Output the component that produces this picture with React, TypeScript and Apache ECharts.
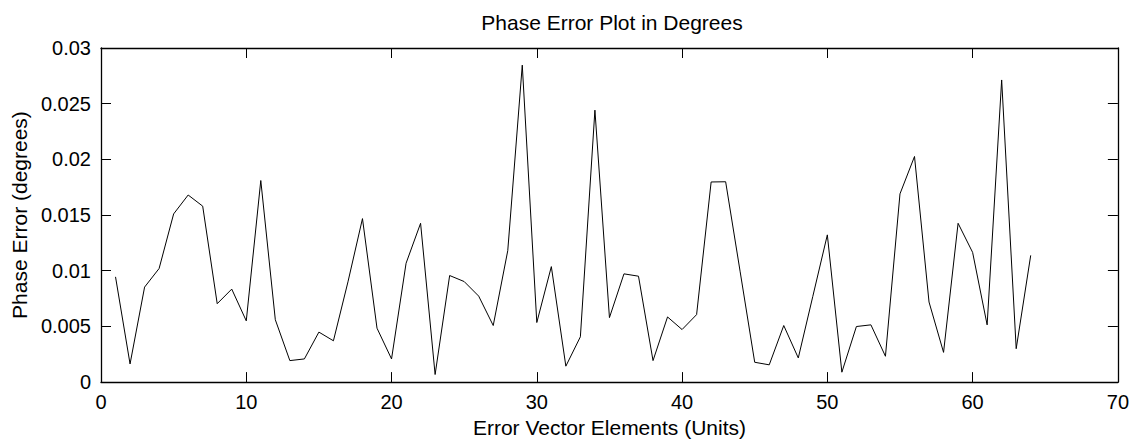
import React, { useEffect, useRef } from "react";
import * as echarts from "echarts";

const titleText = "Phase Error Plot in Degrees";
const xAxisName = "Error Vector Elements (Units)";
const yAxisName = "Phase Error (degrees)";

const elementIndex: number[] = Array.from({ length: 64 }, (_, i) => i + 1);
const phaseError: number[] = [
  0.00945, 0.00163, 0.00853, 0.0102, 0.0151, 0.0168, 0.0158, 0.00704, 0.00835, 0.0055,
  0.0181, 0.0056, 0.00193, 0.00208, 0.00449, 0.00371, 0.009, 0.01468, 0.00484, 0.00208,
  0.01067, 0.01426, 0.00068, 0.00957, 0.00903, 0.00772, 0.00508, 0.0118, 0.02846, 0.00535,
  0.01037, 0.00143, 0.00407, 0.02442, 0.00579, 0.00972, 0.00951, 0.00193, 0.00585, 0.00472,
  0.00606, 0.01797, 0.01799, 0.0099, 0.00178, 0.00155, 0.00508, 0.00217, 0.0077, 0.01322,
  0.00089, 0.00499, 0.00514, 0.00232, 0.0169, 0.02026, 0.00719, 0.00267, 0.01426, 0.01165,
  0.00514, 0.02713, 0.003, 0.01138,
];

const FONT = "Liberation Sans, Arial, Helvetica, sans-serif";

export default function App() {
  const ref = useRef<HTMLDivElement>(null);
  useEffect(() => {
    if (!ref.current) return;
    const chart = echarts.init(ref.current, null, { renderer: "svg" });
    const axisLine = { show: true, onZero: false, lineStyle: { color: "#000", width: 1.3 } };
    const tick = { show: true, inside: true, length: 10, lineStyle: { color: "#000", width: 1 } };
    chart.setOption({
      animation: false,
      backgroundColor: "#fff",
      title: {
        text: titleText,
        left: 607,
        textAlign: "center",
        top: 7,
        textStyle: { fontFamily: FONT, fontSize: 21, fontWeight: "normal", color: "#000" },
      },
      grid: { left: 101, right: 14, top: 48, bottom: 58, containLabel: false },
      xAxis: [
        {
          type: "value",
          min: 0,
          max: 70,
          interval: 10,
          position: "bottom",
          name: xAxisName,
          nameLocation: "middle",
          nameGap: 34,
          nameTextStyle: { fontFamily: FONT, fontSize: 21, color: "#000" },
          axisLine,
          axisTick: tick,
          axisLabel: { fontFamily: FONT, fontSize: 20, color: "#000", margin: 10 },
          splitLine: { show: false },
        },
        {
          type: "value",
          min: 0,
          max: 70,
          interval: 10,
          position: "top",
          axisLine,
          axisTick: tick,
          axisLabel: { show: false },
          splitLine: { show: false },
        },
      ],
      yAxis: [
        {
          type: "value",
          min: 0,
          max: 0.03,
          interval: 0.005,
          position: "left",
          name: yAxisName,
          nameLocation: "middle",
          nameGap: 71,
          nameTextStyle: { fontFamily: FONT, fontSize: 21, color: "#000" },
          axisLine,
          axisTick: tick,
          axisLabel: {
            fontFamily: FONT,
            fontSize: 20,
            color: "#000",
            margin: 10,
            formatter: (v: number) => String(parseFloat(v.toFixed(4))),
          },
          splitLine: { show: false },
        },
        {
          type: "value",
          min: 0,
          max: 0.03,
          interval: 0.005,
          position: "right",
          axisLine,
          axisTick: tick,
          axisLabel: { show: false },
          splitLine: { show: false },
        },
      ],
      series: [
        {
          type: "line",
          data: elementIndex.map((x, i) => [x, phaseError[i]]),
          showSymbol: false,
          symbol: "none",
          lineStyle: { color: "#000", width: 1 },
          xAxisIndex: 0,
          yAxisIndex: 0,
        },
      ],
    });
    return () => chart.dispose();
  }, []);
  return (
    <div
      ref={ref}
      style={{ position: "fixed", left: 0, top: 0, width: 1132, height: 443, background: "#fff" }}
    />
  );
}
